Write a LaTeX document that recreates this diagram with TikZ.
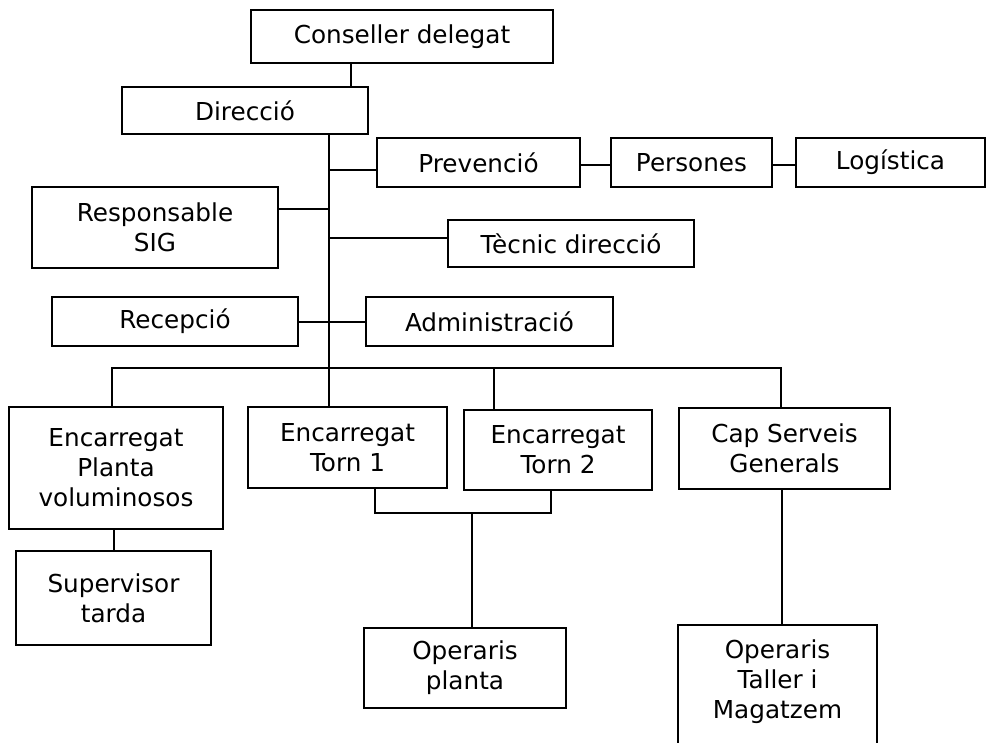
\documentclass[tikz,border=0pt]{standalone}
\usepackage{fontspec}
\setmainfont{DejaVu Sans}

\begin{document}
\begin{tikzpicture}[x=1pt, y=-1pt, line width=1.8pt,
  box/.style={draw, inner sep=0pt, align=center, font=\fontsize{24.7}{30}\selectfont},
  dims/.style 2 args={minimum width=#1, minimum height=#2}]
  \useasboundingbox (0,0) rectangle (987,743);
  \clip (0,0) rectangle (987,743);

  % boxes
  \node[box, dims={302}{53}] (cons) at (402,36.5) {Conseller delegat};
  \node[box, dims={246}{47}] (dir) at (245,110.5) {Direcció};
  \node[box, dims={203}{49}] (prev) at (478.5,162.5) {Prevenció};
  \node[box, dims={161}{49}] (pers) at (691.5,162.5) {Persones};
  \node[box, dims={189}{49}] (logi) at (890.5,162.5) {Logística};
  \node[box, dims={246}{81}] (rsig) at (155,227.5) {Responsable\\SIG};
  \node[box, dims={246}{47}] (tec) at (571,243.5) {Tècnic direcció};
  \node[box, dims={246}{49}] (rec) at (175,321.5) {Recepció};
  \node[box, dims={247}{49}] (adm) at (489.5,321.5) {Administració};
  \node[box, dims={214}{122}] (epv) at (116,468) {Encarregat\\Planta\\voluminosos};
  \node[box, dims={195}{94}] (sup) at (113.5,598) {Supervisor\\tarda};
  \node[box, dims={199}{81}] (et1) at (347.5,447.5) {Encarregat\\Torn 1};
  \node[box, dims={188}{80}] (et2) at (558,450) {Encarregat\\Torn 2};
  \node[box, dims={211}{81}] (csg) at (784.5,448.5) {Cap Serveis\\Generals};
  \node[box, dims={202}{80}] (opp) at (465,668) {Operaris\\planta};
  \node[box, minimum width=199, anchor=north, inner ysep=10pt,
        text height=24pt, text depth=130pt] (otm) at (777.5,624)
        {\begin{tabular}[t]{@{}c@{}}Operaris\\Taller i\\Magatzem\end{tabular}};

  % lines
  \coordinate (trunk) at (329,0);
  \coordinate (bus) at (450,368);
  \coordinate (join) at (472,513);
  \draw ([xshift=-51]cons.south) -- ([xshift=-51]cons.south |- dir.north);
  \draw (dir.south -| trunk) -- (et1.north -| trunk);
  \draw ([yshift=-7.5]prev.west) -- ([yshift=-7.5]prev.west -| trunk);
  \draw ([yshift=-2.5]prev.east) -- ([yshift=-2.5]pers.west);
  \draw ([yshift=-2.5]pers.east) -- ([yshift=-2.5]logi.west);
  \draw ([yshift=18.5]rsig.east) -- ([yshift=18.5]rsig.east -| trunk);
  \draw ([yshift=5.5]tec.west) -- ([yshift=5.5]tec.west -| trunk);
  \draw ([yshift=-0.5]rec.east) -- ([yshift=-0.5]adm.west);
  \draw ([xshift=-4]epv.north) |- (bus) -| ([xshift=-3.5]csg.north);
  \draw ([xshift=-64]et2.north) -- ([xshift=-64]et2.north |- bus);
  \draw ([xshift=-2]epv.south) -- ([xshift=-2]epv.south |- sup.north);
  \draw ([xshift=27.5]et1.south) |- (join) -| ([xshift=-7]et2.south);
  \draw (join) -- (join |- opp.north);
  \draw ([xshift=-2.5]csg.south) -- ([xshift=-2.5]csg.south |- otm.north);
\end{tikzpicture}
\end{document}
